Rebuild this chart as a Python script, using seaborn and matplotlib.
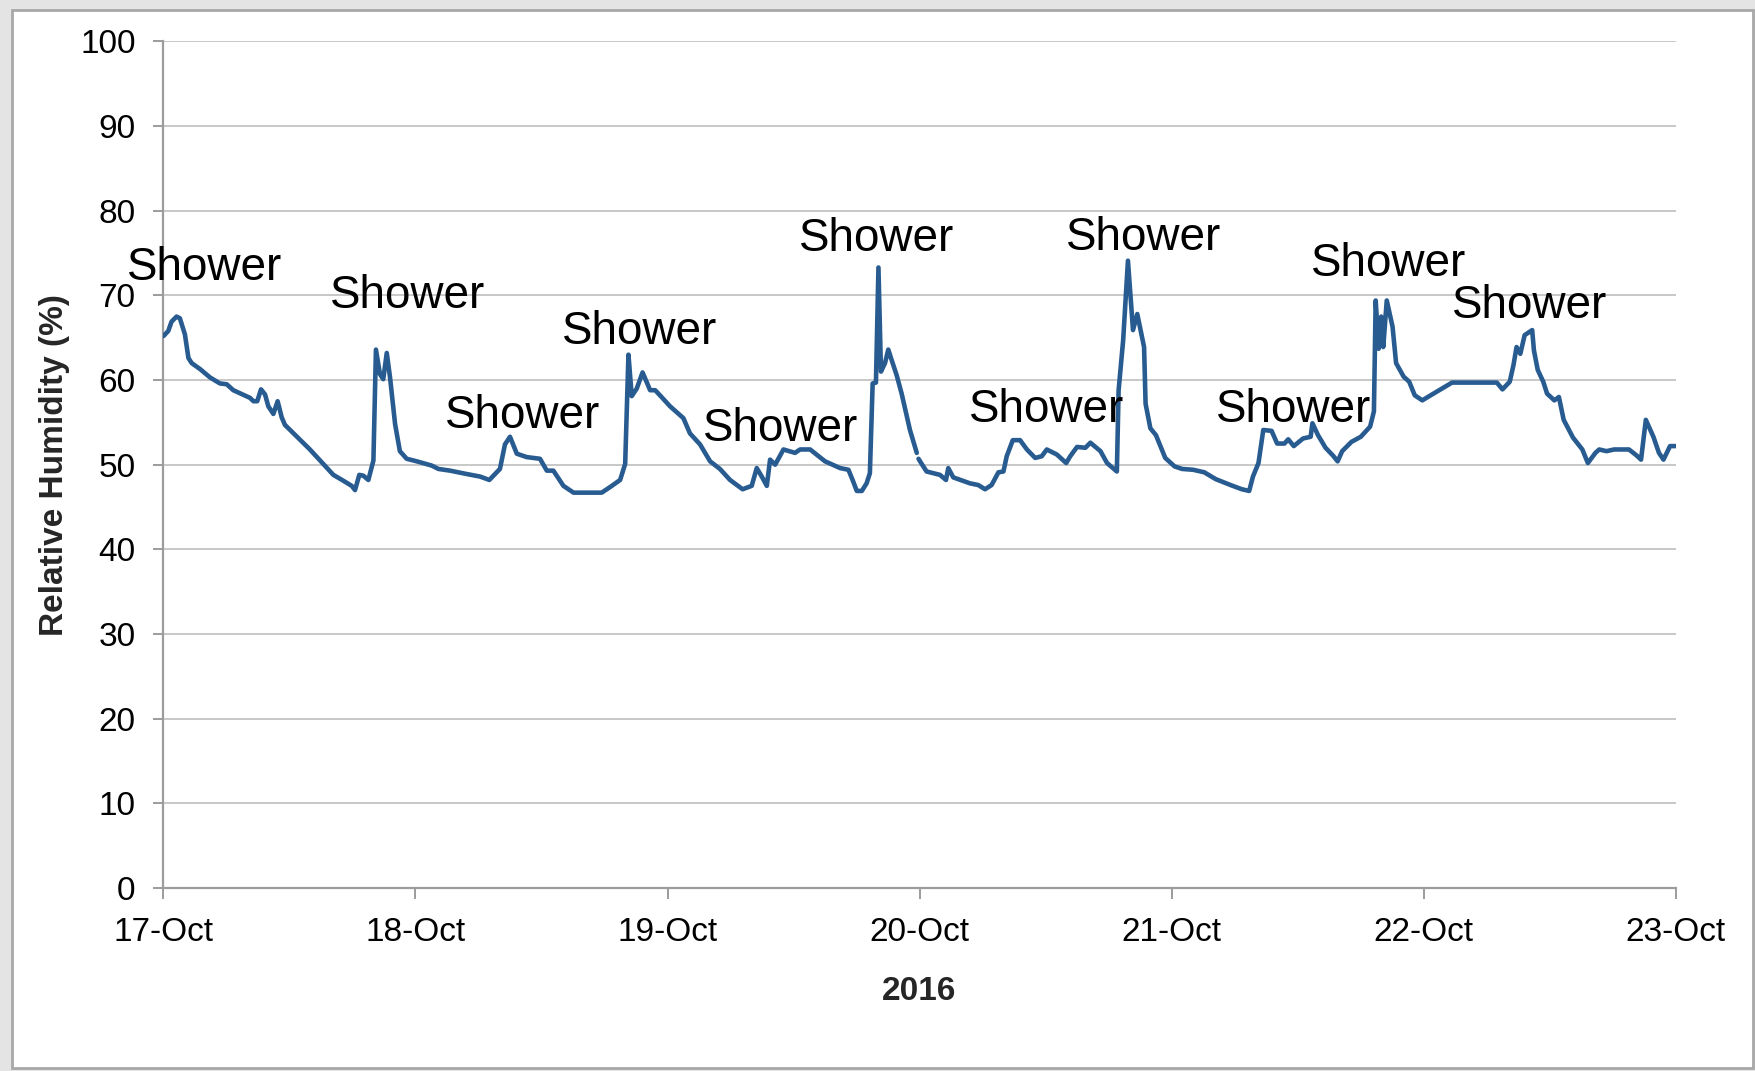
import numpy as np
import pandas as pd
import matplotlib
matplotlib.use("Agg")
import matplotlib.pyplot as plt
import matplotlib.dates as mdates
from matplotlib.patches import Rectangle
import seaborn as sns

# veri: gün (17-Oct 00:00'dan itibaren) ve bağıl nem (%)
start_date = "2016-10-17"
days = [0.000, 0.019, 0.032, 0.052, 0.065, 0.085, 0.099, 0.112, 0.145, 0.185,
        0.224, 0.251, 0.277, 0.343, 0.357, 0.372, 0.387, 0.403, 0.416, 0.436,
        0.453, 0.469, 0.482, 0.581, 0.674, 0.714, 0.747, 0.760, 0.777, 0.793,
        0.813, 0.833, 0.843, 0.859, 0.872, 0.886, 0.899, 0.919, 0.938, 0.965,
        1.005, 1.064, 1.091, 1.137, 1.203, 1.256, 1.293, 1.335, 1.355, 1.375,
        1.402, 1.441, 1.494, 1.521, 1.547, 1.587, 1.627, 1.739, 1.779, 1.812,
        1.832, 1.845, 1.858, 1.878, 1.901, 1.931, 1.951, 1.970, 2.010, 2.063,
        2.089, 2.129, 2.169, 2.208, 2.248, 2.298, 2.334, 2.354, 2.374, 2.394,
        2.407, 2.427, 2.460, 2.506, 2.526, 2.566, 2.625, 2.685, 2.718, 2.737,
        2.751, 2.771, 2.790, 2.803, 2.814, 2.827, 2.837, 2.847, 2.863, 2.876,
        2.889, 2.909, 2.929, 2.962, 2.989, 2.992, 2.996, 3.002, 3.028, 3.081,
        3.105, 3.114, 3.134, 3.200, 3.233, 3.260, 3.286, 3.313, 3.333, 3.346,
        3.370, 3.399, 3.426, 3.459, 3.485, 3.505, 3.545, 3.582, 3.598, 3.625,
        3.658, 3.678, 3.698, 3.718, 3.744, 3.783, 3.790, 3.808, 3.827, 3.847,
        3.864, 3.891, 3.897, 3.916, 3.938, 3.975, 4.012, 4.042, 4.086, 4.130,
        4.175, 4.234, 4.279, 4.308, 4.323, 4.345, 4.364, 4.397, 4.419, 4.448,
        4.463, 4.485, 4.522, 4.552, 4.559, 4.581, 4.611, 4.640, 4.659, 4.677,
        4.714, 4.751, 4.788, 4.803, 4.810, 4.822, 4.832, 4.840, 4.854, 4.877,
        4.891, 4.921, 4.943, 4.965, 4.995, 5.017, 5.062, 5.113, 5.291, 5.313,
        5.342, 5.357, 5.369, 5.384, 5.401, 5.431, 5.438, 5.453, 5.475, 5.490,
        5.519, 5.537, 5.556, 5.593, 5.630, 5.652, 5.682, 5.697, 5.726, 5.756,
        5.815, 5.845, 5.863, 5.882, 5.912, 5.934, 5.952, 5.978, 6.000]
humidity = [65.2, 65.8, 66.9, 67.5, 67.3, 65.4, 62.6, 62.0, 61.3, 60.3,
            59.6, 59.5, 58.8, 57.9, 57.5, 57.5, 58.9, 58.3, 56.9, 56.0,
            57.5, 55.6, 54.7, 51.8, 48.8, 48.1, 47.5, 47.0, 48.8, 48.7,
            48.2, 50.5, 63.6, 60.7, 60.1, 63.2, 60.3, 54.8, 51.6, 50.7,
            50.4, 49.9, 49.5, 49.3, 48.9, 48.6, 48.2, 49.5, 52.4, 53.3,
            51.3, 50.9, 50.7, 49.3, 49.3, 47.5, 46.7, 46.7, 47.5, 48.2,
            50.1, 63.0, 58.1, 59.0, 60.9, 58.8, 58.8, 58.2, 56.9, 55.5,
            53.7, 52.4, 50.4, 49.5, 48.2, 47.1, 47.5, 49.6, 48.6, 47.5,
            50.6, 50.0, 51.8, 51.4, 51.8, 51.8, 50.4, 49.6, 49.4, 48.0,
            46.9, 46.9, 47.8, 49.0, 59.6, 59.7, 73.3, 61.0, 62.0, 63.6,
            62.4, 60.6, 58.4, 54.1, 51.4, np.nan, 50.7, 50.4, 49.2, 48.8,
            48.2, 49.6, 48.5, 47.8, 47.6, 47.1, 47.6, 49.1, 49.2, 51.0,
            52.9, 52.9, 51.8, 50.8, 51.0, 51.8, 51.2, 50.2, 51.0, 52.1,
            52.0, 52.6, 52.1, 51.6, 50.2, 49.2, 58.8, 64.7, 74.1, 65.9,
            67.8, 63.9, 57.2, 54.3, 53.5, 50.8, 49.8, 49.5, 49.4, 49.1,
            48.3, 47.6, 47.1, 46.9, 48.6, 50.2, 54.1, 54.0, 52.5, 52.5,
            53.0, 52.2, 53.1, 53.3, 54.9, 53.5, 52.0, 51.1, 50.4, 51.6,
            52.7, 53.3, 54.5, 56.3, 69.4, 63.7, 67.5, 63.9, 69.4, 66.3,
            62.0, 60.4, 59.8, 58.2, 57.6, 58.0, 58.8, 59.7, 59.7, 58.9,
            59.8, 61.8, 63.9, 63.1, 65.3, 65.9, 63.5, 61.2, 59.8, 58.4,
            57.6, 58.0, 55.3, 53.2, 51.8, 50.2, 51.4, 51.8, 51.6, 51.8,
            51.8, 51.1, 50.6, 55.3, 53.3, 51.4, 50.6, 52.2, 52.2]

df = pd.DataFrame({"zaman": pd.Timestamp(start_date) + pd.to_timedelta(days, unit="D"),
                   "nem": humidity})
# eksik ölçümde çizgi kopsun diye parçalara ayır
df["parca"] = df["nem"].isna().cumsum()
df = df.dropna()

sns.set_style("white")
plt.rcParams["font.family"] = ["Liberation Sans", "DejaVu Sans"]

fig = plt.figure(figsize=(17.56, 10.71), dpi=100, facecolor="#e4e4e4")
fig.patches.append(Rectangle((12 / 1756, 3 / 1071), 1741 / 1756, 1058 / 1071,
                             transform=fig.transFigure, facecolor="white",
                             edgecolor="#a8a8a8", lw=2, zorder=-10))
ax = fig.add_axes([0.0931, 0.1709, 0.8611, 0.7904])
ax.set_facecolor("white")
ax.set_zorder(1)

for _, parca in df.groupby("parca"):
    sns.lineplot(data=parca, x="zaman", y="nem", ax=ax, color="#285C91",
                 linewidth=3.3, zorder=3)

# "Shower" etiketleri
shower_yer = [(-0.146, 71.8), (0.660, 68.5), (1.117, 54.3), (1.580, 64.3),
              (2.142, 52.8), (2.523, 75.2), (3.198, 55.0), (3.581, 75.4),
              (4.177, 55.0), (4.552, 72.3), (5.114, 67.3)]
for gun, seviye in shower_yer:
    ax.text(pd.Timestamp(start_date) + pd.Timedelta(days=gun), seviye, "Shower",
            ha="left", va="baseline", fontsize=33, color="black", zorder=4,
            clip_on=False)

ax.set_xlim(pd.Timestamp("2016-10-17"), pd.Timestamp("2016-10-23"))
ax.set_ylim(0, 100)
ax.set_yticks(range(0, 101, 10))
ax.xaxis.set_major_locator(mdates.DayLocator())
ax.xaxis.set_major_formatter(mdates.DateFormatter("%d-%b"))

ax.grid(axis="y", color="#c8c8c8", lw=1.4, zorder=0)
ax.grid(axis="x", visible=False)
for s in ["top", "right"]:
    ax.spines[s].set_visible(False)
for s in ["left", "bottom"]:
    ax.spines[s].set_color("#9c9c9c")
    ax.spines[s].set_linewidth(1.6)

ax.tick_params(axis="y", direction="out", length=7, width=1.4, color="#9c9c9c",
               labelsize=24, labelcolor="black", pad=13, left=True)
ax.tick_params(axis="x", direction="out", length=8, width=1.4, color="#9c9c9c",
               labelsize=24, labelcolor="black", pad=13, bottom=True)

ax.set_xlabel("2016", fontsize=24, fontweight="bold")
ax.set_ylabel("Relative Humidity (%)", fontsize=24, fontweight="bold")
ax.xaxis.set_label_coords(0.5, -0.104)
ax.yaxis.set_label_coords(-0.062, 0.5)

fig.savefig("out.png", dpi=100, facecolor=fig.get_facecolor())
